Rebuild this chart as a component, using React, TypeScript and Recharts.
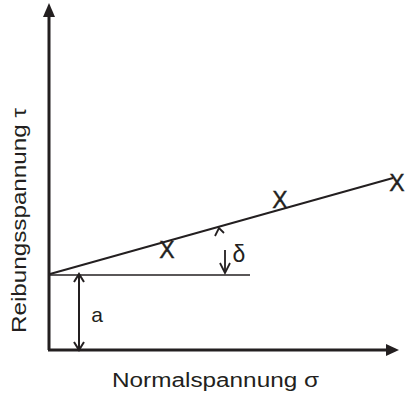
import React from 'react';
import { ComposedChart, XAxis, YAxis, Line, Scatter, ReferenceLine } from 'recharts';

// data space: x 0..350 (normal stress), y 0..347 (shear stress)
const fitLine = [
  { x: 1, y: 76 },
  { x: 344, y: 172 },
];
const measurements = [
  { x: 118, y: 100, label: 'X' },
  { x: 231, y: 150, label: 'X' },
  { x: 348, y: 167, label: 'X' },
];
const interceptLevel = [
  { x: 0, y: 75 },
  { x: 201, y: 75 },
];
const interceptArrow = [
  { x: 30, y: 0 },
  { x: 30, y: 76 },
];
const yAxisTip = [{ x: 0, y: 347 }];
const xAxisTip = [{ x: 350, y: 0 }];
const angleUpTip = [{ x: 170, y: 122 }];
const angleDownTip = [{ x: 176, y: 77 }];
const annotations = [
  { x: 48, y: 35, label: 'a', size: 21 },
  { x: 190, y: 95, label: 'δ', size: 23 },
];
const xTitle = 'Normalspannung σ';
const yTitle = 'Reibungsspannung τ';

const INK = '#231f20';
const FONT = '"Liberation Sans", Arial, sans-serif';

const UpHead = (p: any) => (
  <polygon points={`${p.cx},${p.cy} ${p.cx - 6},${p.cy + 14} ${p.cx + 6},${p.cy + 14}`} fill={INK} />
);
const RightHead = (p: any) => (
  <polygon points={`${p.cx},${p.cy} ${p.cx - 13},${p.cy - 6} ${p.cx - 13},${p.cy + 6}`} fill={INK} />
);
const DoubleEnds = (p: any) => {
  const up = p.payload.y > 10;
  const d = up
    ? `M${p.cx - 5},${p.cy + 8} L${p.cx},${p.cy} L${p.cx + 5},${p.cy + 8}`
    : `M${p.cx - 5},${p.cy - 8} L${p.cx},${p.cy} L${p.cx + 5},${p.cy - 8}`;
  return <path d={d} fill="none" stroke={INK} strokeWidth={2} />;
};
const Caret = (p: any) => (
  <path d={`M${p.cx - 4},${p.cy + 8} L${p.cx},${p.cy} L${p.cx + 5},${p.cy + 5}`} fill="none" stroke={INK} strokeWidth={1.8} />
);
const DownArrow = (p: any) => (
  <g>
    <line x1={p.cx} y1={p.cy} x2={p.cx} y2={p.cy - 23} stroke={INK} strokeWidth={1.8} />
    <path d={`M${p.cx - 5},${p.cy - 10} L${p.cx},${p.cy} L${p.cx + 5},${p.cy - 10}`} fill="none" stroke={INK} strokeWidth={1.8} />
  </g>
);
const Cross = (p: any) => (
  <text x={p.cx} y={p.cy + 8} textAnchor="middle" fontFamily={FONT} fontSize={23} fill={INK} stroke={INK} strokeWidth={0.4}>
    {p.payload.label}
  </text>
);
const Note = (p: any) => (
  <text x={p.cx} y={p.cy + 7} textAnchor="middle" fontFamily={FONT} fontSize={p.payload.size} fill={INK}>
    {p.payload.label}
  </text>
);

const XTitle = (props: any) => {
  const vb = props.viewBox;
  return (
    <text x={vb.x + 63} y={vb.y + 37} fontFamily={FONT} fontSize={20} fill={INK} textLength={207} lengthAdjust="spacingAndGlyphs">
      {xTitle}
    </text>
  );
};
const YTitle = (props: any) => {
  const vb = props.viewBox;
  const cx = 26;
  const cy = vb.y + 330;
  return (
    <text x={cx} y={cy} transform={`rotate(-90 ${cx} ${cy})`} fontFamily={FONT} fontSize={20} fill={INK} textLength={225} lengthAdjust="spacingAndGlyphs">
      {yTitle}
    </text>
  );
};

export default function App() {
  return (
    <div style={{ position: 'absolute', left: 0, top: 0, background: '#fff' }}>
      <ComposedChart width={405} height={399} margin={{ top: 3, right: 6, left: 0, bottom: 0 }}>
        <XAxis dataKey="x" type="number" domain={[0, 350]} height={49} axisLine={false} tickLine={false} tick={false} label={{ content: XTitle }} />
        <YAxis dataKey="y" type="number" domain={[0, 347]} width={49} axisLine={false} tickLine={false} tick={false} label={{ content: YTitle }} />
        <ReferenceLine segment={[{ x: 0, y: 0 }, { x: 0, y: 334 }]} stroke={INK} strokeWidth={3} ifOverflow="visible" />
        <ReferenceLine segment={[{ x: -1, y: 0 }, { x: 338, y: 0 }]} stroke={INK} strokeWidth={3} ifOverflow="visible" />
        <ReferenceLine segment={[interceptLevel[0], interceptLevel[1]]} stroke={INK} strokeWidth={1.5} ifOverflow="visible" />
        <ReferenceLine segment={[interceptArrow[0], interceptArrow[1]]} stroke={INK} strokeWidth={2} ifOverflow="visible" />
        <Line data={fitLine} dataKey="y" type="linear" stroke={INK} strokeWidth={2} dot={false} activeDot={false} isAnimationActive={false} />
        <Scatter data={yAxisTip} dataKey="y" shape={UpHead} isAnimationActive={false} />
        <Scatter data={xAxisTip} dataKey="y" shape={RightHead} isAnimationActive={false} />
        <Scatter data={interceptArrow} dataKey="y" shape={DoubleEnds} isAnimationActive={false} />
        <Scatter data={angleUpTip} dataKey="y" shape={Caret} isAnimationActive={false} />
        <Scatter data={angleDownTip} dataKey="y" shape={DownArrow} isAnimationActive={false} />
        <Scatter data={measurements} dataKey="y" shape={Cross} isAnimationActive={false} />
        <Scatter data={annotations} dataKey="y" shape={Note} isAnimationActive={false} />
      </ComposedChart>
    </div>
  );
}
